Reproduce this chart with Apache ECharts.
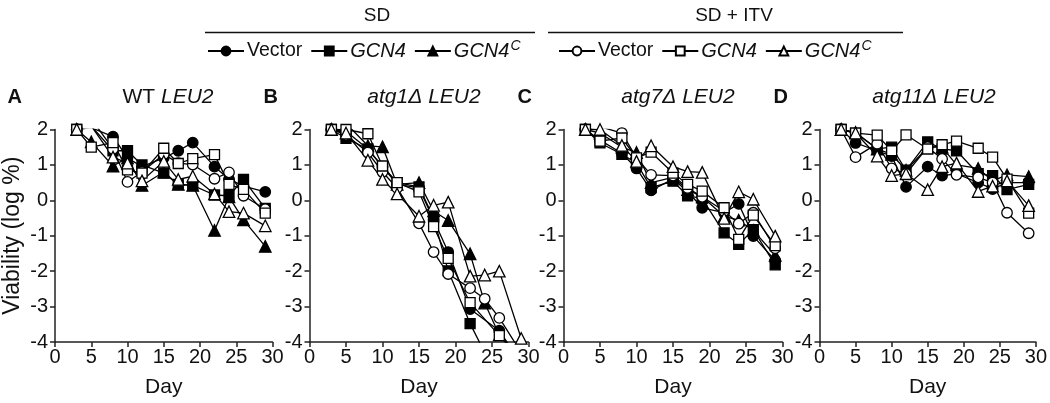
<!DOCTYPE html>
<html><head><meta charset="utf-8">
<script src="https://cdn.jsdelivr.net/npm/echarts@6/dist/echarts.min.js"></script>
<style>html,body{margin:0;padding:0;background:#fff}#c{width:1050px;height:403px}</style>
</head><body><div id="c"></div>
<script>
// ---- data ----
const days = [3,5,8,10,12,15,17,19,22,24,26,29];
const xTicks = [0,5,10,15,20,25,30];
const yTicks = [-4,-3,-2,-1,0,1,2];
const seriesNames = ['SD Vector','SD GCN4','SD GCN4C','ITV Vector','ITV GCN4','ITV GCN4C'];
const panelLetters = ['A','B','C','D'];
const panelTitles = ['WT LEU2','atg1Δ LEU2','atg7Δ LEU2','atg11Δ LEU2'];

// Panel A: WT LEU2
const wtSdVector  = [2,2.05,1.8,1.2,0.95,1.2,1.4,1.63,0.95,0.6,0.4,0.24];
const wtSdGcn4    = [2,2.1,1.4,1.4,1.0,0.77,0.45,0.42,0.15,0.13,0.59,-0.23];
const wtSdGcn4c   = [2,1.65,0.97,1.2,0.42,0.8,0.45,0.42,-0.85,0.1,-0.55,-1.3];
const wtItvVector = [2,2.3,1.45,0.52,0.8,1.3,1.05,1.01,0.61,0.79,0.13,-0.25];
const wtItvGcn4   = [2,1.5,1.63,0.86,0.77,1.47,1.04,1.18,1.29,0.45,0.31,-0.36];
const wtItvGcn4c  = [2,2.1,1.22,1.05,0.55,1.1,0.59,0.68,0.18,-0.32,-0.36,-0.72];

// Panel B: atg1Δ LEU2
const a1SdVector  = [2,1.95,1.45,0.95,0.45,0.35,-0.55,-1.46,-3.07,null,-3.68,-4.6];
const a1SdGcn4    = [2,1.75,1.45,0.95,0.5,0.38,-0.49,-1.99,-3.48,-4.3,null,null];
const a1SdGcn4c   = [2,2.17,1.54,1.51,0.45,0.5,-0.3,-0.57,-1.51,-2.9,-3.8,-4.6];
const a1ItvVector = [2,1.85,1.35,0.8,0.35,-0.65,-1.46,-2.08,-2.48,-2.78,-3.32,-4.3];
const a1ItvGcn4   = [2,2.0,1.88,0.97,0.5,0.24,-0.74,-1.64,-2.89,null,-3.82,-4.4];
const a1ItvGcn4c  = [2,1.9,1.13,0.59,0.18,-0.45,-0.14,-0.05,-2.14,-2.11,-2.0,-3.9];

// Panel C: atg7Δ LEU2
const a7SdVector  = [2,1.7,1.33,0.9,0.28,0.6,0.25,-0.21,-0.35,-0.1,-1.01,-1.7];
const a7SdGcn4    = [2,1.62,1.3,1.05,0.36,0.54,0.13,0.05,-0.92,-1.24,-0.83,-1.82];
const a7SdGcn4c   = [2,1.9,1.5,1.35,0.5,0.65,0.3,0.1,-0.45,-0.56,-0.85,-1.55];
const a7ItvVector = [2,2.08,1.9,1.2,0.72,0.7,0.35,0.1,-0.3,-0.66,-0.35,-1.35];
const a7ItvGcn4   = [2,1.67,1.76,1.2,1.36,0.77,0.45,0.26,-0.21,-1.1,-0.42,-1.28];
const a7ItvGcn4c  = [2,2.0,1.55,1.1,1.54,0.95,0.81,0.79,-0.51,0.24,0.03,-1.01];

// Panel D: atg11Δ LEU2
const a11SdVector  = [2,1.62,1.4,1.25,0.38,0.95,0.7,0.75,0.5,0.32,0.5,0.5];
const a11SdGcn4    = [2,1.9,1.45,1.5,0.85,1.65,1.45,1.4,0.75,0.7,0.3,0.45];
const a11SdGcn4c   = [2,1.92,1.45,1.3,0.85,1.5,1.5,1.0,0.9,0.55,0.72,0.67];
const a11ItvVector = [2,1.22,1.6,0.9,0.75,1.5,1.17,0.72,0.65,0.5,-0.35,-0.93];
const a11ItvGcn4   = [2,1.9,1.84,1.4,1.85,1.45,1.57,1.67,1.47,1.22,0.6,-0.36];
const a11ItvGcn4c  = [2,1.9,1.25,0.7,0.75,0.3,0.95,1.05,0.25,0.4,0.55,-0.15];

const panels = [
  [wtSdVector, wtSdGcn4, wtSdGcn4c, wtItvVector, wtItvGcn4, wtItvGcn4c],
  [a1SdVector, a1SdGcn4, a1SdGcn4c, a1ItvVector, a1ItvGcn4, a1ItvGcn4c],
  [a7SdVector, a7SdGcn4, a7SdGcn4c, a7ItvVector, a7ItvGcn4, a7ItvGcn4c],
  [a11SdVector, a11SdGcn4, a11SdGcn4c, a11ItvVector, a11ItvGcn4, a11ItvGcn4c]
];

// ---- styling ----
const FONT = 'Liberation Sans, Arial, sans-serif';
const symbols = ['circle','rect','triangle','circle','rect','triangle'];
const symSizes = [10.5,10,11.5,10.5,10,11.5];
const fills = ['#000','#000','#000','#fff','#fff','#fff'];
const gridLefts = [53.5, 309.5, 563.5, 819.5];
const gridW = 219, gridTop = 129.5, gridH = 220.5;

const chart = echarts.init(document.getElementById('c'), null, {renderer:'canvas'});

const grids = [], xAxes = [], yAxes = [], series = [], titles = [];
const axisCol = '#222';
panels.forEach((p, gi) => {
  grids.push({left: gridLefts[gi], top: gridTop, width: gridW, height: gridH, containLabel: false});
  xAxes.push({
    gridIndex: gi, type: 'value', min: xTicks[0], max: xTicks[xTicks.length-1], interval: 5,
    name: 'Day', nameLocation: 'middle', nameGap: 35,
    nameTextStyle: {fontFamily: FONT, fontSize: 21, color: '#111'},
    axisLine: {onZero: false, lineStyle: {color: axisCol, width: 1.5}},
    axisTick: {show: true, inside: false, length: 5, lineStyle: {color: axisCol, width: 1.5}},
    axisLabel: {fontFamily: FONT, fontSize: 20, color: '#111', margin: 5},
    splitLine: {show: false}
  });
  yAxes.push({
    gridIndex: gi, type: 'value', min: yTicks[0], max: yTicks[yTicks.length-1], interval: 1,
    name: gi === 0 ? 'Viability (log %)' : '', nameLocation: 'middle', nameGap: 31,
    nameTextStyle: {fontFamily: FONT, fontSize: 23, color: '#111'},
    axisLine: {show: true, onZero: false, lineStyle: {color: axisCol, width: 1.5}},
    axisTick: {show: true, inside: false, length: 5, lineStyle: {color: axisCol, width: 1.5}},
    axisLabel: {fontFamily: FONT, fontSize: 20, color: '#111', margin: 7},
    splitLine: {show: false}
  });
  p.forEach((vals, si) => {
    series.push({
      type: 'line', name: seriesNames[si], xAxisIndex: gi, yAxisIndex: gi,
      data: days.map((d, k) => [d, vals[k]]),
      connectNulls: true, clip: true,
      symbol: symbols[si], symbolSize: symSizes[si], showAllSymbol: true,
      lineStyle: {color: '#000', width: 1.3},
      itemStyle: {color: fills[si], borderColor: '#000', borderWidth: 1.3, opacity: 1},
      emphasis: {disabled: true}, animation: false, z: 2
    });
  });
  titles.push({
    text: panelLetters[gi], left: gridLefts[gi] - 51, top: 82,
    textStyle: {fontFamily: FONT, fontSize: 20, fontWeight: 'bold', color: '#111'}
  });
  const t = panelTitles[gi];
  const txt = gi === 0 ? '{n|WT }{i|LEU2}' : '{i|' + t + '}';
  titles.push({
    text: txt, left: gridLefts[gi] + gridW / 2, top: 82, textAlign: 'center',
    textStyle: {fontFamily: FONT, fontSize: 21, fontWeight: 'normal', color: '#111',
      rich: {n: {fontFamily: FONT, fontSize: 21, fontWeight: 'normal', color: '#111'},
             i: {fontFamily: FONT, fontSize: 21, fontWeight: 'normal', fontStyle: 'italic', color: '#111'}}}
  });
});

titles.push({text: 'SD', left: 372, top: 1, textAlign: 'center',
  textStyle: {fontFamily: FONT, fontSize: 19, fontWeight: 'normal', color: '#111'}});
titles.push({text: 'SD + ITV', left: 729, top: 1, textAlign: 'center',
  textStyle: {fontFamily: FONT, fontSize: 19, fontWeight: 'normal', color: '#111'}});

const legendRich = {
  n: {fontFamily: FONT, fontSize: 19.5, color: '#111'},
  i: {fontFamily: FONT, fontSize: 20, fontStyle: 'italic', color: '#111'},
  s: {fontFamily: FONT, fontSize: 14, fontStyle: 'italic', color: '#111', verticalAlign: 'top', padding: [0,0,10,1]}
};
function legendFmt(name) {
  if (name.endsWith('Vector')) return '{n|Vector}';
  if (name.endsWith('GCN4C')) return '{i|GCN4}{s|C}';
  return '{i|GCN4}';
}
const legendCommon = {
  orient: 'horizontal', top: 34, itemWidth: 36, itemHeight: 11, itemGap: 8,
  formatter: legendFmt, selectedMode: false,
  textStyle: {fontFamily: FONT, fontSize: 19, color: '#111', rich: legendRich, padding: [0,0,0,-2]}
};

const option = {
  backgroundColor: '#fff',
  animation: false,
  title: titles,
  grid: grids, xAxis: xAxes, yAxis: yAxes, series: series,
  legend: [
    Object.assign({}, legendCommon, {left: 202, data: seriesNames.slice(0,3)}),
    Object.assign({}, legendCommon, {left: 553, data: seriesNames.slice(3)})
  ],
  graphic: [
    {type: 'line', shape: {x1: 205, y1: 32.5, x2: 535, y2: 32.5}, style: {stroke: '#111', lineWidth: 1.5}},
    {type: 'line', shape: {x1: 548, y1: 32.5, x2: 903, y2: 32.5}, style: {stroke: '#111', lineWidth: 1.5}}
  ]
};
chart.setOption(option);
</script></body></html>
